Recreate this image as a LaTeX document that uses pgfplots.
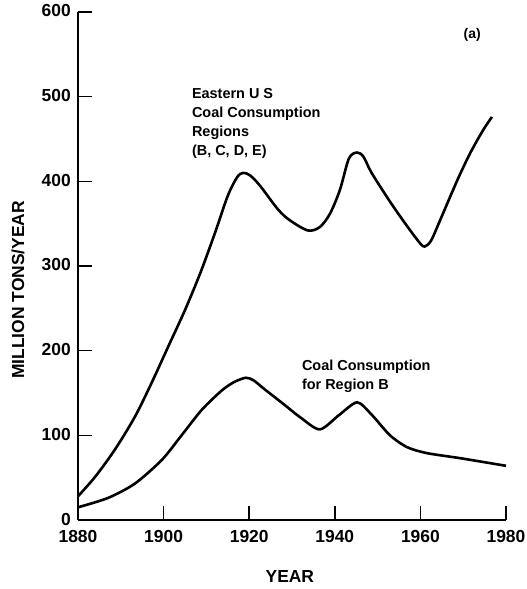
\documentclass[border=0pt]{standalone}
\usepackage{pgfplots}
\pgfplotsset{compat=1.18}
\usepackage{fontspec}
\setmainfont{Liberation Sans}
\begin{document}
\begin{tikzpicture}
\begin{axis}[
  at={(0,0)}, anchor=south west,
  scale only axis,
  width=428bp, height=508bp,
  xmin=1880, xmax=1980, ymin=0, ymax=600,
  axis x line*=bottom, axis y line*=left,
  axis line style={line width=1.6bp},
  xtick={1880,1900,1920,1940,1960,1980},
  ytick={0,100,200,300,400,500,600},
  tick align=inside,
  major tick length=14bp,
  tick style={line width=1.6bp, black},
  /pgf/number format/assume math mode=true,
  /pgf/number format/1000 sep={},
  ticklabel style={font=\bfseries\fontsize{17.5}{17.5}\selectfont, inner sep=1bp},
  xticklabel style={yshift=-9bp},
  yticklabel style={xshift=-6bp, yshift=1bp},
  xlabel={YEAR},
  ylabel={MILLION TONS/YEAR},
  label style={font=\bfseries\fontsize{17.5}{17.5}\selectfont},
  xlabel style={at={(axis description cs:0.495,-0.112)}, anchor=center},
  ylabel style={at={(axis description cs:-0.140,0.453)}, anchor=center, rotate=0},
  clip=false,
]
\addplot[black, line width=2.6bp, smooth, tension=0.5] coordinates {
(1880,28) (1884,51) (1888.6,83) (1893.3,122) (1897.2,162) (1901.1,205)
(1905,248) (1908.6,292) (1912,339) (1915,383) (1917.2,405) (1918.6,410)
(1920.2,407) (1922.5,395) (1926.7,367) (1929.5,354) (1933.7,342)
(1936.5,346) (1938.9,362) (1941.2,390) (1943.3,427) (1945.2,434)
(1946.7,429) (1948.6,410) (1952.9,376) (1956.9,347) (1959.9,327)
(1961,323) (1962.5,330) (1964.6,354) (1968.6,401) (1971.6,433) (1974.6,460) (1976.7,476)
};
\addplot[black, line width=2.6bp, smooth, tension=0.45] coordinates {
(1880,15) (1887,26) (1893.3,43) (1899.6,71) (1904.2,100) (1908.9,130)
(1913.6,153) (1916.5,163) (1919.2,168) (1921,165) (1923.7,154) (1928,137)
(1932,121) (1936.5,107) (1941,124) (1945.2,139) (1948.5,125) (1952.9,100)
(1956.9,86) (1961.5,79) (1969.3,73) (1980,64)
};
\node[anchor=north west, inner sep=0pt, align=left,
      font=\bfseries\fontsize{14.5}{19}\selectfont]
  at (axis cs:1906.6,510) {Eastern U S\\Coal Consumption\\Regions\\(B, C, D, E)};
\node[anchor=north west, inner sep=0pt, align=left,
      font=\bfseries\fontsize{14.5}{19}\selectfont]
  at (axis cs:1932.3,189) {Coal Consumption\\for Region B};
\node[anchor=center, inner sep=0pt,
      font=\bfseries\fontsize{14}{14}\selectfont]
  at (axis cs:1972.1,573) {(a)};
\end{axis}
\pgfresetboundingbox
\path[use as bounding box] (-78bp,-69bp) rectangle (449bp,520bp);
\end{tikzpicture}
\end{document}
